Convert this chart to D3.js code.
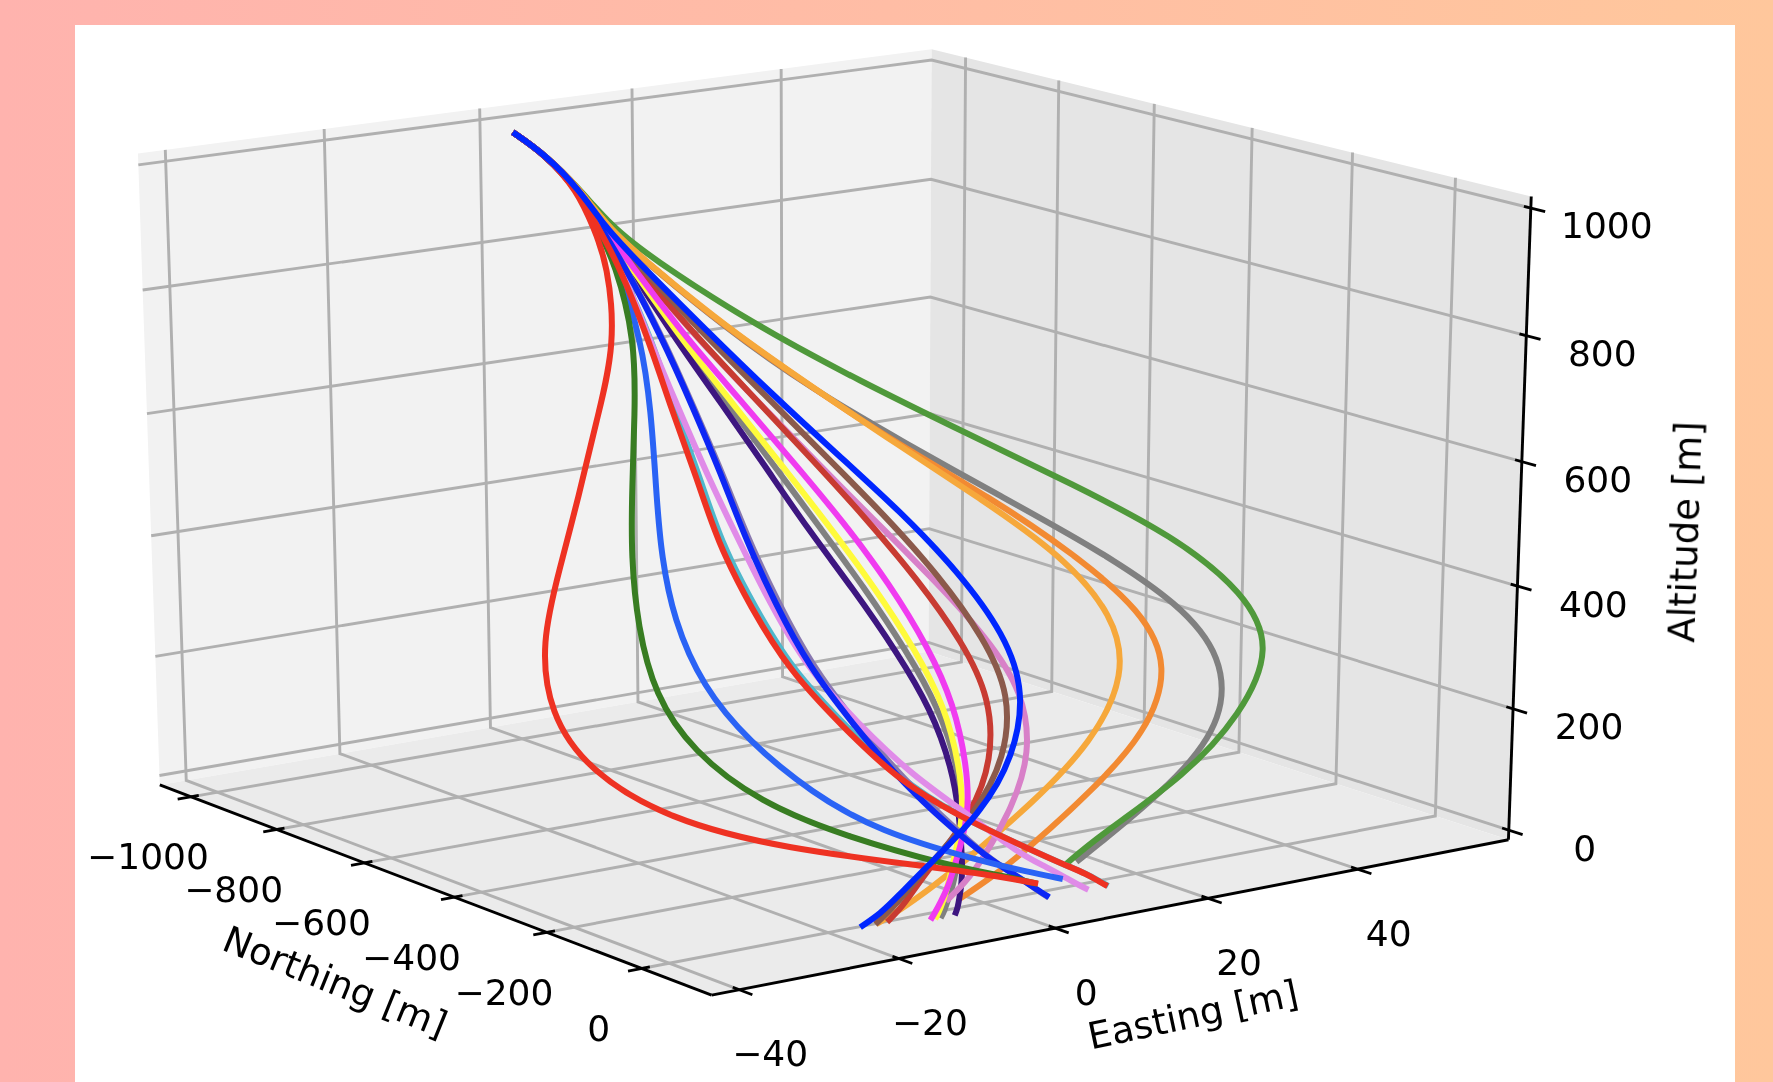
<!DOCTYPE html>
<html>
<head>
<meta charset="utf-8">
<script src="https://cdn.jsdelivr.net/npm/d3@7"></script>
<style>
    html, body { margin: 0; padding: 0; background: #fff; overflow: hidden; }
    text { font-family: "DejaVu Sans"; fill: #000; }
</style>
</head>
<body>
<div id="chart"></div>
<script>
// tick labels
var northTicks = [-1000, -800, -600, -400, -200, 0];
var eastTicks = [-40, -20, 0, 20, 40];
var altTicks = [0, 200, 400, 600, 800, 1000];

// shared descent profile, one entry per sample along the path
var northing = [-1000, -928, -855, -806, -751, -641, -529, -423, -325, -228, -143, -82, -51, -41, 14, 44, 66, 80, 90];
var altitude = [994, 972, 930, 881, 838, 742, 661, 584, 511, 434, 354, 279, 191, 114, 60, 41, 27, 18, 12];

// easting of each trajectory at those samples (some stop a little earlier)
var eGreen = [0, 0, .2, 1.2, 3, 9.7, 16.8, 24.5, 32.1, 39.5, 43.5, 43.3, 37, 29.3, 13.6, 7.9];
var eGrayOuter = [0, 0, .2, .7, 1.9, 6.1, 10.4, 16.4, 22.5, 29.2, 34.8, 36.6, 34.8, 28.6, 15.4, 9.2];
var eOrange = [0, 0, .2, .7, 1.9, 6.2, 10.7, 15.4, 21.2, 26, 29.7, 29.5, 24.5, 16.5, 4.3, -2, -7.3];
var eAmber = [0, 0, .2, .7, 2, 6.3, 10.8, 15.3, 20, 24.5, 26, 23.7, 17.3, 8.9, -3.8, -10, -15, -18.9];
var eGrayMid = [0, 0, 0, 0, -.1, -.3, -.6, -.9, -1.2, -1.2, -1.1, -.8, -.2, -.2, -4.4, -6.8, -8.9, -10.2, -11.3];
var eIndigo = [0, 0, 0, -.1, -.2, -.65, -1.3, -2, -2.7, -2.6, -2.3, -1.8, -1, -.6, -3.7, -5.7, -7.4, -8.5, -9.5];
var eOrchid = [0, 0, .1, .2, .5, 1.8, 3, 4.2, 5.6, 7.4, 9.3, 10.2, 9.2, 6.3, -1.1, -5.3, -9.1];
var eDarkRed = [0, 0, .1, .2, .5, 1.9, 3, 4, 4.9, 5.6, 6.1, 5.9, 4.2, 1, -8.2, -12.1, -15.1, -17.5];
var eBrown = [0, 0, .1, .3, .8, 3, 4.5, 5.9, 7.3, 8.4, 8.9, 8.5, 5.9, 1.5, -8.7, -13, -16.5, -19];
var eYellow = [0, 0, 0, 0, 0, 0, 0, 0, 0, 0, 0, 0, 0, 0, -5, -7.5, -9.5, -10.9, -12];
var eMagenta = [0, 0, 0, .1, .2, .6, 1.2, 1.6, 2, 2, 1.7, 1.2, .9, .7, -4.7, -7.4, -9.8, -11.4, -12.6];
var eTeal = [0, 0, -.1, -.5, -1.2, -3.4, -7.2, -10.4, -13.7, -15.3, -15.6, -12.9, -8, -.7, 5.4, 7.5, 9.2, 9.9, 10.4];
var eSlate = [0, 0, 0, -.2, -.6, -1.95, -4.8, -7.5, -10.3, -12.3, -13.1, -11.5, -7.5, -2.5, -.3, 1, 1.8, 2.2, 2.6];
var ePlum = [0, 0, -.1, -.4, -1, -3.7, -6.7, -9.4, -11.5, -13.3, -13.8, -11.3, -6.2, .6, 3.5, 5.4, 6.5, 7.2, 7.8];
var eBlue = [0, 0, 0, -.2, -.6, -2.1, -4.9, -7.7, -10.6, -12.7, -13.5, -11.9, -8, -2.9, -.3, 1, 1.8, 2.3, 2.7];
var eMidBlue = [0, 0, -.1, -.5, -1.3, -4.7, -10.2, -16, -21.3, -25.5, -27, -25, -18.9, -11, -1.6, 2.6, 6];
var eDarkGreen = [0, 0, -.1, -.6, -1.5, -5.5, -12.3, -19, -25, -30, -33, -32, -25.5, -15, -5.2, -.4, 2.7];
var eRed = [0, 0, -.1, -.5, -1.2, -3.8, -7.6, -10.8, -14.1, -15.8, -16, -13.3, -8.3, -.7, 5.4, 7.5, 9.2, 9.8, 10.3];
var eRedOuter = [0, 0, -.2, -1, -2.5, -8, -17.2, -25.7, -33.9, -42, -46, -45, -37, -23, -6.5, -.8, 2.8];
var eBrightBlue = [0, 0, .1, .4, 1.1, 3.7, 5.4, 7.4, 9.5, 11, 11.6, 10.4, 7, 2.3, -8.9, -13.8, -17.5, -20.9];

// draw order is back to front
var trajectories = [
    [eGrayOuter, "#808080"], [eGreen, "#50993a"], [eOrange, "#f28a33"], [eAmber, "#f6a83b"],
    [eGrayMid, "#808080"], [eIndigo, "#3d1380"], [eOrchid, "#d880c8"], [eDarkRed, "#c83a30"],
    [eBrown, "#8b5a4b"], [eYellow, "#fffb3a"], [eMagenta, "#f03af0"], [eTeal, "#4fb8cc"],
    [eSlate, "#8878b0"], [ePlum, "#e08be8"], [eBlue, "#0a28f5"], [eMidBlue, "#2b63f5"],
    [eDarkGreen, "#377d22"], [eRed, "#ee3124"], [eRedOuter, "#ee3124"], [eBrightBlue, "#0028ff"]
];

var W = 1773, H = 1082;

var svg = d3.select("#chart").append("svg")
    .attr("width", W)
    .attr("height", H)
    .style("display", "block");

// peach frame behind the white card
var grad = svg.append("defs").append("linearGradient").attr("id", "frame");
grad.append("stop").attr("offset", "0%").attr("stop-color", "#ffb3ae");
grad.append("stop").attr("offset", "100%").attr("stop-color", "#ffc79c");
svg.append("rect").attr("width", W).attr("height", H).attr("fill", "url(#frame)");
svg.append("rect").attr("x", 75).attr("y", 25).attr("width", 1660).attr("height", H - 25).attr("fill", "#fff");

// the source picture is a slightly soft upscale
var soft = svg.select("defs").append("filter").attr("id", "soft");
soft.append("feGaussianBlur").attr("stdDeviation", 0.5);

var g = svg.append("g").attr("filter", "url(#soft)");

// axis limits, these are the pane edges
var nLim = [-1074, 144], eLim = [-43.4, 60.6], aLim = [-16, 1018];

var x = d3.scaleLinear().domain(nLim).range([-.5, .5]);
var y = d3.scaleLinear().domain(eLim).range([-.5, .5]);
var z = d3.scaleLinear().domain(aLim).range([-.5, .5]);

// view camera, same idea as mplot3d
var elev = 19 * Math.PI / 180, azim = -35.9 * Math.PI / 180, dist = 10;
var view = [Math.cos(elev) * Math.cos(azim), Math.cos(elev) * Math.sin(azim), Math.sin(elev)];
var right = [-Math.sin(azim), Math.cos(azim), 0];
var up = [-Math.sin(elev) * Math.cos(azim), -Math.sin(elev) * Math.sin(azim), Math.cos(elev)];

var screenX = d3.scaleLinear().domain([0, 1]).range([827.1, 827.1 + 981.4]);
var screenY = d3.scaleLinear().domain([0, 1]).range([498.6, 498.6 - 673.9]);

function dot(a, b) {
    return a[0] * b[0] + a[1] * b[1] + a[2] * b[2];
}

function project(n, e, a) {
    var p = [x(n), y(e), z(a)];
    var d = dist - dot(view, p);
    return [screenX(dist * dot(right, p) / d), screenY(dist * dot(up, p) / d)];
}

var polyline = d3.line();
var smooth = d3.line().curve(d3.curveBasis);

function pane(points, fill) {
    g.append("path")
        .attr("d", polyline(points.map(function (d) { return project(d[0], d[1], d[2]); })) + "Z")
        .attr("fill", fill);
}

function seg(points, color, width) {
    g.append("path")
        .attr("d", polyline(points.map(function (d) { return project(d[0], d[1], d[2]); })))
        .attr("fill", "none")
        .attr("stroke", color)
        .attr("stroke-width", width);
}

pane([[nLim[0], eLim[0], aLim[0]], [nLim[0], eLim[1], aLim[0]], [nLim[0], eLim[1], aLim[1]], [nLim[0], eLim[0], aLim[1]]], "#f2f2f2");
pane([[nLim[0], eLim[1], aLim[0]], [nLim[1], eLim[1], aLim[0]], [nLim[1], eLim[1], aLim[1]], [nLim[0], eLim[1], aLim[1]]], "#e5e5e5");
pane([[nLim[0], eLim[0], aLim[0]], [nLim[1], eLim[0], aLim[0]], [nLim[1], eLim[1], aLim[0]], [nLim[0], eLim[1], aLim[0]]], "#ebebeb");

// grid lines run over two panes each
var gridColor = "#b0b0b0", gridWidth = 2.9;
northTicks.forEach(function (t) {
    seg([[t, eLim[0], aLim[0]], [t, eLim[1], aLim[0]], [t, eLim[1], aLim[1]]], gridColor, gridWidth);
});
eastTicks.forEach(function (t) {
    seg([[nLim[1], t, aLim[0]], [nLim[0], t, aLim[0]], [nLim[0], t, aLim[1]]], gridColor, gridWidth);
});
altTicks.forEach(function (t) {
    seg([[nLim[0], eLim[0], t], [nLim[0], eLim[1], t], [nLim[1], eLim[1], t]], gridColor, gridWidth);
});

// axis lines
seg([[nLim[0], eLim[0], aLim[0]], [nLim[1], eLim[0], aLim[0]]], "#000", 2.9);
seg([[nLim[1], eLim[0], aLim[0]], [nLim[1], eLim[1], aLim[0]]], "#000", 2.9);
seg([[nLim[1], eLim[1], aLim[0]], [nLim[1], eLim[1], aLim[1]]], "#000", 2.9);

function tickText(pos, dx, dy, label) {
    g.append("text")
        .attr("x", pos[0] + dx)
        .attr("y", pos[1] + dy)
        .attr("text-anchor", "middle")
        .attr("dominant-baseline", "central")
        .attr("font-size", 36)
        .text(String(label).replace("-", "\u2212"));
}

northTicks.forEach(function (t) {
    seg([[t, eLim[0] - 1.7, aLim[0]], [t, eLim[0] + 1, aLim[0]]], "#000", 2.8);
    tickText(project(t, eLim[0], aLim[0]), -43, 60, t);
});
eastTicks.forEach(function (t) {
    seg([[nLim[1] + 27, t, aLim[0]], [nLim[1] - 13, t, aLim[0]]], "#000", 2.8);
    tickText(project(nLim[1], t, aLim[0]), 31, 64, t);
});
altTicks.forEach(function (t) {
    seg([[nLim[1] + 27, eLim[1], t], [nLim[1] - 13, eLim[1], t]], "#000", 2.8);
    tickText(project(nLim[1], eLim[1], t), 76, 18, t);
});

function axisLabel(cx, cy, angle, label) {
    g.append("text")
        .attr("transform", "translate(" + cx + "," + cy + ") rotate(" + angle + ")")
        .attr("text-anchor", "middle")
        .attr("dominant-baseline", "central")
        .attr("font-size", 37)
        .text(label);
}
axisLabel(335, 982, 22, "Northing [m]");
axisLabel(1193, 1015, -12, "Easting [m]");
axisLabel(1685, 532, -88, "Altitude [m]");

// the trajectories
trajectories.forEach(function (d) {
    var pts = d[0].map(function (e, i) { return project(northing[i], e, altitude[i]); });
    g.append("path")
        .attr("d", smooth(pts))
        .attr("fill", "none")
        .attr("stroke", d[1])
        .attr("stroke-width", 6);
});
</script>
</body>
</html>
